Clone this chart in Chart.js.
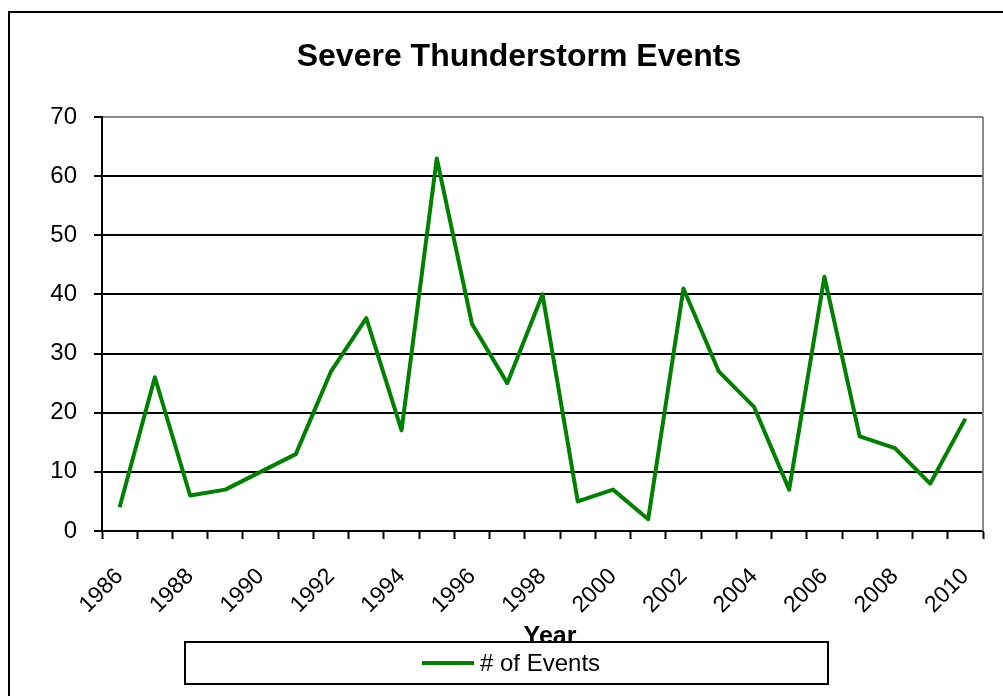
<!DOCTYPE html>
<html>
<head>
<meta charset="utf-8">
<script src="https://cdn.jsdelivr.net/npm/chart.js@4.4.1/dist/chart.umd.min.js"></script>
<style>
  html, body { margin: 0; padding: 0; background: #fff; overflow: hidden; }
  #wrap { width: 1003px; height: 696px; position: relative; }
</style>
</head>
<body>
<div id="wrap"><canvas id="stormChart" width="1003" height="696"></canvas></div>
<script>
// Chart data
const years = ['1986', '1987', '1988', '1989', '1990', '1991', '1992', '1993', '1994', '1995',
    '1996', '1997', '1998', '1999', '2000', '2001', '2002', '2003', '2004', '2005',
    '2006', '2007', '2008', '2009', '2010'];
const eventCounts = [4, 26, 6, 7, 10, 13, 27, 36, 17, 63,
    35, 25, 40, 5, 7, 2, 41, 27, 21, 7,
    43, 16, 14, 8, 19];
const seriesName = '# of Events';
const chartTitle = 'Severe Thunderstorm Events';
const xTitle = 'Year';
const yMax = 70;
const yStep = 10;

const FONT = 'Arial, "Liberation Sans", sans-serif';

// Outer frame, titles, grey plot edge and boxed legend
const framePlugin = {
    id: 'frame',
    beforeDraw(chart) {
        const ctx = chart.ctx;
        ctx.save();
        ctx.fillStyle = '#fff';
        ctx.fillRect(0, 0, chart.width, chart.height);
        ctx.strokeStyle = '#000';
        ctx.lineWidth = 2;
        ctx.strokeRect(9, 12, chart.width + 20, chart.height + 20);
        ctx.restore();
    },
    afterDraw(chart) {
        const ctx = chart.ctx;
        const area = chart.chartArea;
        const ds = chart.data.datasets[0];
        ctx.save();
        // title (centred over the whole frame, not the plot)
        ctx.fillStyle = '#000';
        ctx.font = 'bold 32px ' + FONT;
        ctx.textAlign = 'center';
        ctx.textBaseline = 'middle';
        ctx.fillText(chartTitle, 519, 57);

        // axis title, partly hidden behind the legend box
        ctx.font = 'bold 25px ' + FONT;
        ctx.fillText(xTitle, 550, 637);

        // right edge of plot area
        ctx.strokeStyle = '#888';
        ctx.lineWidth = 2;
        ctx.beginPath();
        ctx.moveTo(area.right, area.top);
        ctx.lineTo(area.right, area.bottom);
        ctx.stroke();

        // legend box
        ctx.fillStyle = '#fff';
        ctx.fillRect(185, 642, 643, 42);
        ctx.strokeStyle = '#000';
        ctx.lineWidth = 2;
        ctx.strokeRect(185, 642, 643, 42);
        ctx.strokeStyle = ds.borderColor;
        ctx.lineWidth = 4;
        ctx.beginPath();
        ctx.moveTo(422, 663);
        ctx.lineTo(474, 663);
        ctx.stroke();
        ctx.fillStyle = '#000';
        ctx.font = '24px ' + FONT;
        ctx.textBaseline = 'middle';
        ctx.textAlign = 'left';
        ctx.fillText(ds.label, 480, 664);
        ctx.restore();
    }
};

const ctx = document.getElementById('stormChart');
new Chart(ctx, {
    type: 'line',
    data: {
        labels: years,
        datasets: [{
            label: seriesName,
            data: eventCounts,
            borderColor: '#008000',
            backgroundColor: '#008000',
            borderWidth: 4,
            borderJoinStyle: 'round',
            pointRadius: 0,
            tension: 0,
            fill: false
        }]
    },
    options: {
        responsive: false,
        animation: false,
        layout: { padding: { left: 0, right: 20, top: 117, bottom: 0 } },
        plugins: {
            legend: { display: false },
            tooltip: { enabled: false },
            title: { display: false }
        },
        scales: {
            x: {
                offset: true,
                grid: {
                    offset: true,
                    drawOnChartArea: false,
                    drawTicks: true,
                    tickLength: 8,
                    tickWidth: 2,
                    color: '#000'
                },
                border: { color: '#000', width: 2 },
                ticks: {
                    autoSkip: false,
                    maxRotation: 45,
                    minRotation: 45,
                    color: '#000',
                    font: { family: FONT, size: 23 },
                    padding: 24,
                    callback: function (value, index) {
                        return index % 2 === 0 ? this.getLabelForValue(value) : '';
                    }
                },
                afterFit(scale) {
                    scale.height = 165;
                    scale.paddingLeft = 0;
                    scale.paddingRight = 0;
                }
            },
            y: {
                min: 0,
                max: yMax,
                ticks: {
                    stepSize: yStep,
                    color: '#000',
                    font: { family: FONT, size: 24 },
                    padding: 17
                },
                grid: {
                    color: (c) => (c.tick && c.tick.value === yMax ? '#888' : '#000'),
                    lineWidth: 2,
                    tickLength: 8,
                    tickColor: '#000',
                    tickWidth: 2
                },
                border: { color: '#000', width: 2 },
                afterFit(scale) { scale.width = 102; }
            }
        }
    },
    plugins: [framePlugin]
});
</script>
</body>
</html>
